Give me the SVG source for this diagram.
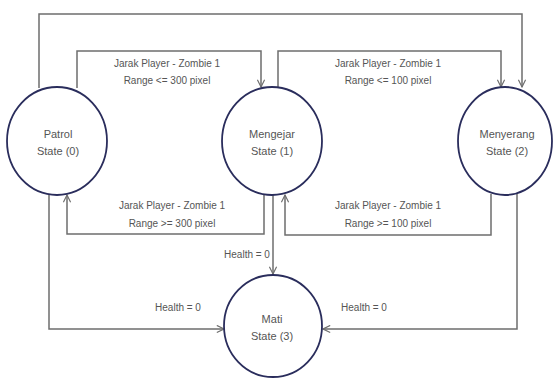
<svg xmlns="http://www.w3.org/2000/svg" width="554" height="378" viewBox="0 0 554 378">
  <defs>
    <style>
      .state { fill: #ffffff; stroke: #2a2d5c; stroke-width: 1.8; }
      .lbl { font-family: "Liberation Sans", Arial, sans-serif; font-size: 10px; fill: #555555; text-anchor: middle; }
      .name { font-family: "Liberation Sans", Arial, sans-serif; font-size: 11px; fill: #555555; text-anchor: middle; }
      .edge { fill: none; stroke: #6e6e6e; stroke-width: 1.5; }
    </style>
    <marker id="arrow" viewBox="0 0 10 10" refX="9" refY="5" markerWidth="9" markerHeight="9" orient="auto" markerUnits="userSpaceOnUse">
      <path d="M1,1 L9,5 L1,9" fill="none" stroke="#6e6e6e" stroke-width="1.3"/>
    </marker>
  </defs>
  <rect width="554" height="378" fill="#ffffff"/>

  <!-- transitions -->
  <g id="connectors">
    <path class="edge" d="M39,88 V14 H522 V87" marker-end="url(#arrow)"/>
    <path class="edge" d="M77,88 V51 H261 V87" marker-end="url(#arrow)"/>
    <path class="edge" d="M278,88 V51 H501 V87" marker-end="url(#arrow)"/>
    <path class="edge" d="M491,194 V235 H285 V195" marker-end="url(#arrow)"/>
    <path class="edge" d="M264,194 V234 H67 V195" marker-end="url(#arrow)"/>
    <path class="edge" d="M273,195 V274" marker-end="url(#arrow)"/>
    <path class="edge" d="M49,192 V329 H224" marker-end="url(#arrow)"/>
    <path class="edge" d="M517,192 V329 H323" marker-end="url(#arrow)"/>

    <text class="lbl" x="167" y="67">Jarak Player - Zombie 1</text>
    <text class="lbl" x="167" y="84">Range &lt;= 300 pixel</text>
    <text class="lbl" x="388" y="67">Jarak Player - Zombie 1</text>
    <text class="lbl" x="388" y="84">Range &lt;= 100 pixel</text>
    <text class="lbl" x="172" y="209">Jarak Player - Zombie 1</text>
    <text class="lbl" x="172" y="227">Range &gt;= 300 pixel</text>
    <text class="lbl" x="388" y="209">Jarak Player - Zombie 1</text>
    <text class="lbl" x="388" y="227">Range &gt;= 100 pixel</text>
    <text class="lbl" x="247" y="258">Health = 0</text>
    <text class="lbl" x="178" y="311">Health = 0</text>
    <text class="lbl" x="364" y="311">Health = 0</text>
  </g>

  <g id="patrol">
    <ellipse class="state" cx="57" cy="141" rx="50" ry="54"/>
    <text class="name" x="58" y="138">Patrol</text>
    <text class="name" x="58" y="155">State (0)</text>
  </g>
  <g id="mengejar">
    <ellipse class="state" cx="272" cy="141" rx="50" ry="54"/>
    <text class="name" x="272" y="138">Mengejar</text>
    <text class="name" x="272" y="155">State (1)</text>
  </g>
  <g id="menyerang">
    <ellipse class="state" cx="505" cy="141" rx="47" ry="54"/>
    <text class="name" x="507" y="138">Menyerang</text>
    <text class="name" x="507" y="155">State (2)</text>
  </g>
  <g id="mati">
    <ellipse class="state" cx="273" cy="326" rx="49" ry="51"/>
    <text class="name" x="272" y="323">Mati</text>
    <text class="name" x="272" y="340">State (3)</text>
  </g>
</svg>
